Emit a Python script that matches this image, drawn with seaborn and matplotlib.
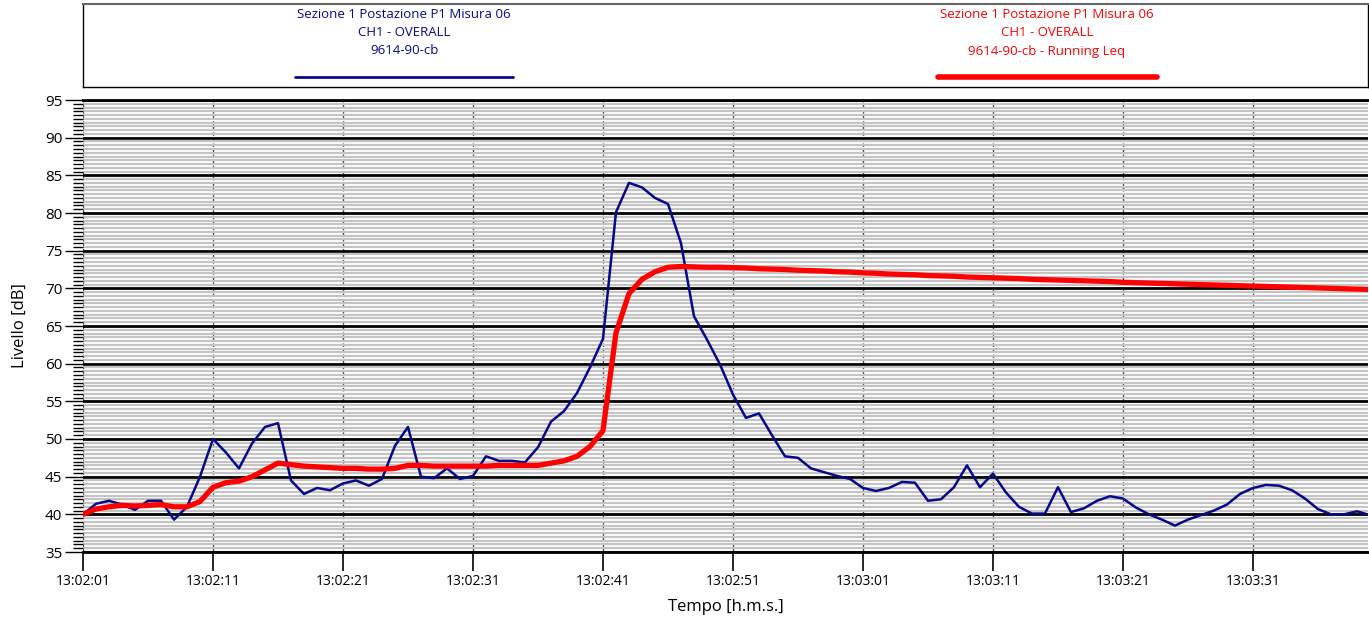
import numpy as np
import pandas as pd
import matplotlib
matplotlib.use("Agg")
import matplotlib.pyplot as plt
import seaborn as sns
from matplotlib.ticker import MultipleLocator

# ---------------- data ----------------
seconds = list(range(100))

overall = [
    40.0, 41.4, 41.8, 41.3, 40.6, 41.8, 41.8, 39.3, 41.0, 45.0,
    50.0, 48.2, 46.1, 49.4, 51.6, 52.1, 44.5, 42.7, 43.5, 43.2,
    44.1, 44.5, 43.8, 44.7, 49.1, 51.6, 45.0, 44.8, 46.1, 44.7,
    45.1, 47.7, 47.1, 47.1, 46.9, 48.9, 52.3, 53.7, 56.1, 59.5,
    63.3, 80.1, 84.0, 83.4, 82.0, 81.2, 76.0, 66.3, 63.2, 59.9,
    55.9, 52.8, 53.4, 50.5, 47.7, 47.5, 46.1, 45.6, 45.1, 44.7,
    43.5, 43.1, 43.5, 44.3, 44.2, 41.8, 42.0, 43.6, 46.5, 43.6,
    45.4, 42.9, 41.0, 40.1, 40.1, 43.6, 40.3, 40.8, 41.8, 42.4,
    42.1, 40.9, 40.0, 39.3, 38.5, 39.3, 39.9, 40.5, 41.3, 42.7,
    43.5, 43.9, 43.8, 43.2, 42.1, 40.7, 40.0, 40.0, 40.4, 39.9,
]

running_leq = [
    40.0, 40.7, 41.0, 41.2, 41.1, 41.2, 41.3, 41.0, 41.0, 41.7,
    43.6, 44.2, 44.4, 45.0, 45.9, 46.8, 46.6, 46.4, 46.3, 46.2,
    46.1, 46.1, 46.0, 46.0, 46.1, 46.5, 46.5, 46.4, 46.4, 46.4,
    46.4, 46.4, 46.5, 46.5, 46.5, 46.5, 46.8, 47.1, 47.7, 49.0,
    51.1, 64.1, 69.3, 71.2, 72.2, 72.8, 72.9, 72.85, 72.8, 72.8,
    72.75, 72.7, 72.6, 72.55, 72.5, 72.4, 72.35, 72.3, 72.2, 72.15,
    72.05, 72.0, 71.9, 71.85, 71.8, 71.7, 71.65, 71.6, 71.5, 71.45,
    71.4, 71.35, 71.3, 71.2, 71.15, 71.1, 71.05, 71.0, 70.95, 70.9,
    70.8, 70.75, 70.7, 70.65, 70.6, 70.55, 70.5, 70.45, 70.4, 70.35,
    70.3, 70.25, 70.2, 70.15, 70.1, 70.05, 70.0, 69.95, 69.9, 69.85,
]

tick_positions = [0, 10, 20, 30, 40, 50, 60, 70, 80, 90]
tick_labels = ["13:02:01", "13:02:11", "13:02:21", "13:02:31", "13:02:41",
               "13:02:51", "13:03:01", "13:03:11", "13:03:21", "13:03:31"]

legend_blue = ["Sezione 1 Postazione P1 Misura 06", "CH1 - OVERALL", "9614-90-cb"]
legend_red = ["Sezione 1 Postazione P1 Misura 06", "CH1 - OVERALL",
              "9614-90-cb - Running Leq"]

blue = "#08088a"
red = "#ff0000"

# ---------------- figure ----------------
sns.set_theme(style="white")
plt.rcParams["font.family"] = ["Open Sans", "DejaVu Sans"]

W, H = 1369, 620
fig = plt.figure(figsize=(W / 100, H / 100), dpi=100)
ax = fig.add_axes([83 / W, 68 / H, 1285 / W, 452 / H])

df = pd.DataFrame({"t": seconds, "overall": overall, "leq": running_leq})
sns.lineplot(data=df, x="t", y="overall", ax=ax, color=blue, lw=1.8,
             legend=False, zorder=5)
sns.lineplot(data=df, x="t", y="leq", ax=ax, color=red, lw=3.8,
             legend=False, zorder=6)

ax.set_xlim(0, 98.85)
ax.set_ylim(35, 95)
ax.yaxis.set_major_locator(MultipleLocator(5))
ax.yaxis.set_minor_locator(MultipleLocator(0.5))
ax.set_xticks(tick_positions)
ax.set_xticklabels(tick_labels)

ax.set_axisbelow(True)
ax.grid(which="minor", axis="y", color="#c4c4c4", lw=1.6)
ax.grid(which="major", axis="y", color="black", lw=2.0)
ax.grid(which="major", axis="x", color="#444444", lw=1.0, ls=(0, (2.5, 1.5)))

for s in ["left", "right"]:
    ax.spines[s].set_visible(False)
for s in ["top", "bottom"]:
    ax.spines[s].set_visible(True)
    ax.spines[s].set_color("black")
    ax.spines[s].set_linewidth(2.0)

ax.tick_params(axis="y", which="major", left=True, length=13, width=1,
               color="black", direction="out", labelsize=11, pad=2,
               labelcolor="black")
ax.tick_params(axis="y", which="minor", left=True, length=7, width=1,
               color="black", direction="out")
ax.tick_params(axis="x", which="major", bottom=True, length=14, width=1.2,
               color="black", direction="out", labelsize=10, pad=2,
               labelcolor="black")

ax.set_ylabel("Livello [dB]", fontsize=12, color="black")
ax.yaxis.set_label_coords(-(83 - 28) / 1285, 0.5)
ax.set_xlabel("Tempo [h.m.s.]", fontsize=12, color="black")
ax.xaxis.set_label_coords(0.5, -(599 - 552) / 452)

# ---------------- legend box ----------------
lax = fig.add_axes([83 / W, 1 - 87 / H, 1285 / W, 83 / H])
lax.set_xlim(0, 1)
lax.set_ylim(0, 1)
lax.set_xticks([])
lax.set_yticks([])
for s in lax.spines.values():
    s.set_visible(True)
    s.set_color("black")
    s.set_linewidth(1.0)
lax.spines["top"].set_color("#666666")
lax.spines["top"].set_linewidth(1.5)

ys = [(87 - 14) / 83, (87 - 32) / 83, (87 - 51) / 83]
for txt, y in zip(legend_blue, ys):
    lax.text(0.25, y, txt, color=blue, ha="center", va="center", fontsize=9.5)
for txt, y in zip(legend_red, ys):
    lax.text(0.75, y, txt, color=red, ha="center", va="center", fontsize=9.5)
ly = (87 - 77) / 83
lax.plot([0.165, 0.335], [ly, ly], color=blue, lw=2.0, solid_capstyle="round")
lax.plot([0.665, 0.836], [ly, ly], color=red, lw=4.0, solid_capstyle="round")

fig.savefig("out.png", dpi=100)
